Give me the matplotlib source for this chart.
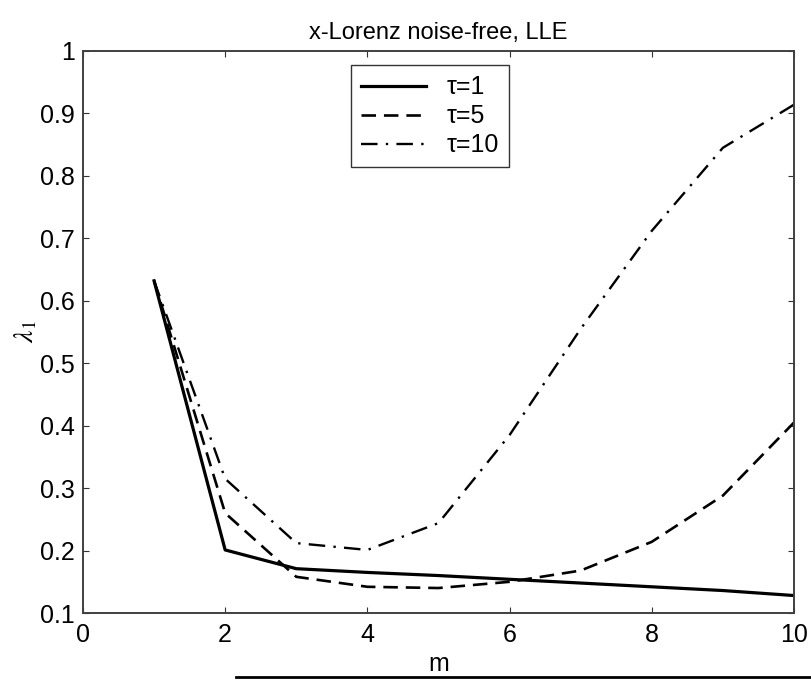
import matplotlib.pyplot as plt
from matplotlib.lines import Line2D
import numpy as np

plt.rcParams['font.family'] = ['Liberation Sans', 'DejaVu Sans']
plt.rcParams['mathtext.fontset'] = 'stix'

m = np.arange(1, 11)
lle_tau1 = [0.632, 0.201, 0.171, 0.165, 0.160, 0.154, 0.148, 0.142, 0.136, 0.128]
lle_tau5 = [0.632, 0.260, 0.158, 0.142, 0.140, 0.150, 0.168, 0.214, 0.288, 0.405]
lle_tau10 = [0.632, 0.315, 0.212, 0.201, 0.244, 0.385, 0.555, 0.712, 0.845, 0.914]

fig = plt.figure(figsize=(8.11, 6.8), dpi=100)
ax = fig.add_axes([0.1023, 0.0985, 0.8767, 0.8265])

ax.plot(m, lle_tau1, color='black', lw=2.3, label='τ=1')
ax.plot(m, lle_tau5, color='black', lw=1.9, dashes=(5.5, 3), label='τ=5')
ax.plot(m, lle_tau10, color='black', lw=1.7, dashes=(7, 3.5, 1, 3.5), label='τ=10')

ax.set_xlim(0, 10)
ax.set_ylim(0.1, 1)
ax.set_xticks(np.arange(0, 11, 2))
ax.set_yticks(np.arange(0.1, 1.01, 0.1))
ax.set_yticklabels(['0.1', '0.2', '0.3', '0.4', '0.5', '0.6', '0.7', '0.8', '0.9', '1'])
ax.tick_params(direction='in', length=4.5, width=0.8, top=True, right=True,
               labelsize=18, colors='#333333', labelcolor='black')
ax.tick_params(axis='x', pad=7)
ax.tick_params(axis='y', pad=6)
for s in ax.spines.values():
    s.set_color('#404040')
    s.set_linewidth(1.4)

ax.set_title('x-Lorenz noise-free, LLE', fontsize=17, pad=9)
ax.set_xlabel('m', fontsize=18, labelpad=4)
ax.set_ylabel(r'$\lambda_1$', fontsize=20, labelpad=0)

leg = ax.legend(loc='upper left', bbox_to_anchor=(0.433, 0.904),
                bbox_transform=fig.transFigure, fontsize=18, frameon=True,
                fancybox=False, edgecolor='black', handlelength=2.6,
                borderaxespad=0, labelspacing=0.2, borderpad=0.4)
leg.get_frame().set_linewidth(1.0)

# stray border line along the bottom edge
fig.add_artist(Line2D([0.291, 1.0], [0.0044, 0.0044], color='black', lw=2,
                      transform=fig.transFigure))

fig.savefig('out.png', dpi=100)
